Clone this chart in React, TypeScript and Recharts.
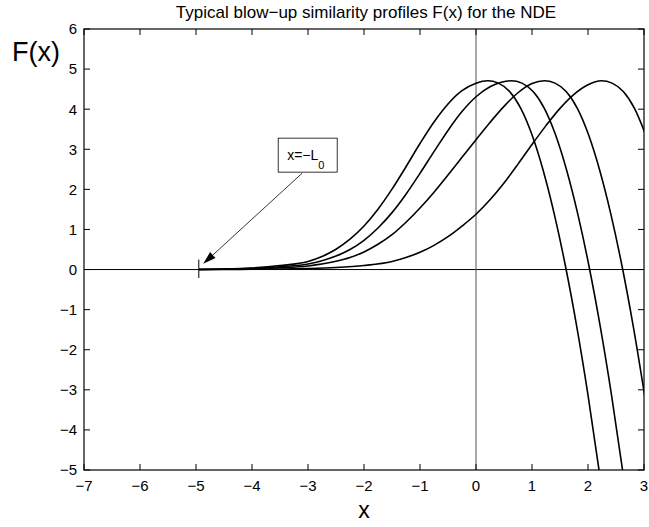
import { LineChart, Line, XAxis, YAxis, ReferenceLine, ReferenceDot } from "recharts";

const FONT = "'Liberation Sans', Arial, Helvetica, sans-serif";

// plot box in pixels (MATLAB style axes)
const LEFT = 84;
const RIGHT = 644;
const TOP = 29;
const BOTTOM = 470;
const TICK = 6;

const xTicks = [-7, -6, -5, -4, -3, -2, -1, 0, 1, 2, 3];
const yTicks = [-5, -4, -3, -2, -1, 0, 1, 2, 3, 4, 5, 6];

const L0 = -4.95;

// four similarity profiles as [x, F(x)]
const profile1: [number, number][] = [
  [-4.95, 0], [-4.5, 0.012], [-4, 0.04], [-3.5, 0.1], [-3, 0.2],
  [-2.75, 0.325], [-2.5, 0.506], [-2.25, 0.756], [-2, 1.087], [-1.75, 1.506],
  [-1.5, 2.006], [-1.25, 2.565], [-1, 3.143], [-0.75, 3.68], [-0.5, 4.13],
  [-0.25, 4.461], [0, 4.649], [0.21, 4.71], [0.4, 4.65], [0.6, 4.44],
  [0.8, 4.02], [1.0, 3.36], [1.2, 2.47], [1.4, 1.37], [1.6, 0.07],
  [1.8, -1.43], [2.0, -3.13], [2.2, -5.03],
];

const profile2: [number, number][] = [
  [-4.95, 0], [-4.5, 0.008], [-4, 0.028], [-3.5, 0.07], [-3, 0.14],
  [-2.75, 0.22], [-2.5, 0.335], [-2.25, 0.5], [-2, 0.73], [-1.75, 1.036],
  [-1.5, 1.42], [-1.25, 1.88], [-1, 2.4], [-0.75, 2.94], [-0.5, 3.47],
  [-0.25, 3.94], [0, 4.31], [0.25, 4.56], [0.45, 4.67], [0.63, 4.71],
  [0.82, 4.65], [1.02, 4.44], [1.22, 4.02], [1.42, 3.36], [1.62, 2.47],
  [1.82, 1.37], [2.02, 0.07], [2.22, -1.43], [2.42, -3.13], [2.62, -5.03],
];

const profile3: [number, number][] = [
  [-4.95, 0], [-4.5, 0.006], [-4, 0.02], [-3.5, 0.045], [-3, 0.09],
  [-2.5, 0.205], [-2.25, 0.3], [-2, 0.44], [-1.75, 0.63], [-1.5, 0.87],
  [-1.25, 1.18], [-1, 1.535], [-0.75, 1.93], [-0.5, 2.36], [-0.25, 2.8],
  [0, 3.24], [0.25, 3.67], [0.5, 4.07], [0.75, 4.41], [1.0, 4.64],
  [1.22, 4.71], [1.41, 4.65], [1.61, 4.44], [1.81, 4.02], [2.01, 3.36],
  [2.21, 2.47], [2.41, 1.37], [2.61, 0.07], [2.81, -1.43], [3.01, -3.13],
];

const profile4: [number, number][] = [
  [-4.95, 0], [-4.5, 0.002], [-4, 0.006], [-3.5, 0.012], [-3, 0.025],
  [-2.5, 0.05], [-2, 0.1], [-1.5, 0.2], [-1.25, 0.3], [-1, 0.43],
  [-0.75, 0.604], [-0.5, 0.82], [-0.25, 1.085], [0, 1.38], [0.25, 1.74],
  [0.5, 2.16], [0.75, 2.63], [1.0, 3.12], [1.25, 3.59], [1.5, 4.02],
  [1.75, 4.37], [2.0, 4.61], [2.24, 4.71], [2.43, 4.65], [2.63, 4.44],
  [2.83, 4.02], [3.03, 3.36],
];

const profiles = [profile1, profile2, profile3, profile4];

const minus = (v: number) => String(v).replace("-", "\u2212");

function XTick({ x, payload }: any) {
  return (
    <g>
      <line x1={x} x2={x} y1={BOTTOM} y2={BOTTOM - TICK} stroke="#000" />
      <line x1={x} x2={x} y1={TOP} y2={TOP + TICK} stroke="#000" />
      <text x={x} y={491} textAnchor="middle" fontSize={15} fontFamily={FONT} fill="#000">
        {minus(payload.value)}
      </text>
    </g>
  );
}

function YTick({ y, payload }: any) {
  return (
    <g>
      <line x1={LEFT} x2={LEFT + TICK} y1={y} y2={y} stroke="#000" />
      <line x1={RIGHT - TICK} x2={RIGHT} y1={y} y2={y} stroke="#000" />
      <text x={77} y={y} dy="0.36em" textAnchor="end" fontSize={15} fontFamily={FONT} fill="#000">
        {minus(payload.value)}
      </text>
    </g>
  );
}

// box + arrow pointing at x = -L0
function L0Note({ cx, cy }: any) {
  const tipX = cx + 4.4;
  const tipY = cy - 5.7;
  const sx = cx + 103.4;
  const sy = cy - 96.4;
  const len = Math.hypot(tipX - sx, tipY - sy);
  const ux = (tipX - sx) / len;
  const uy = (tipY - sy) / len;
  const bx = tipX - ux * 13;
  const by = tipY - uy * 13;
  return (
    <g>
      <line x1={cx} x2={cx} y1={cy - 10} y2={cy + 8.5} stroke="#000" />
      <line x1={sx} y1={sy} x2={bx} y2={by} stroke="#000" strokeWidth={0.8} />
      <polygon
        points={`${tipX},${tipY} ${bx - uy * 4},${by + ux * 4} ${bx + uy * 4},${by - ux * 4}`}
        fill="#000"
      />
      <rect x={cx + 79.4} y={cy - 131.4} width={59} height={34} fill="#fff" stroke="#000" strokeWidth={0.8} />
      <text x={cx + 88.4} y={cy - 109.7} fontSize={14} fontFamily={FONT} fill="#000">
        x=−L
        <tspan dy={9} fontSize={11}>0</tspan>
      </text>
    </g>
  );
}

export default function App() {
  return (
    <div style={{ position: "absolute", left: 0, top: 0, width: 649, height: 527, background: "#fff" }}>
      <LineChart
        width={649}
        height={527}
        margin={{ top: TOP, right: 649 - RIGHT, bottom: 527 - BOTTOM - 1, left: LEFT - 1 }}
      >
        <XAxis
          dataKey="x"
          type="number"
          domain={[-7, 3]}
          ticks={xTicks}
          allowDataOverflow
          height={1}
          axisLine={false}
          tickLine={false}
          tick={(props: any) => <XTick {...props} />}
          interval={0}
        />
        <YAxis
          type="number"
          domain={[-5, 6]}
          ticks={yTicks}
          allowDataOverflow
          width={1}
          axisLine={false}
          tickLine={false}
          tick={(props: any) => <YTick {...props} />}
          interval={0}
        />
        <ReferenceLine y={0} stroke="#000" strokeWidth={1} />
        <ReferenceLine x={0} stroke="#555" strokeWidth={1} />
        {profiles.map((p, i) => (
          <Line
            key={i}
            data={p.map(([x, y]) => ({ x, y }))}
            dataKey="y"
            type="monotone"
            stroke="#000"
            strokeWidth={1.6}
            dot={false}
            activeDot={false}
            isAnimationActive={false}
          />
        ))}
        <ReferenceDot x={L0} y={0} r={0} shape={(props: any) => <L0Note {...props} />} />
      </LineChart>
      <svg
        width={649}
        height={527}
        style={{ position: "absolute", left: 0, top: 0, pointerEvents: "none" }}
      >
        <rect x={LEFT} y={TOP} width={RIGHT - LEFT} height={BOTTOM - TOP} fill="none" stroke="#000" strokeWidth={1.2} />
        <text x={366} y={18} textAnchor="middle" fontSize={17} fontFamily={FONT} fill="#000">
          Typical blow−up similarity profiles F(x) for the NDE
        </text>
        <text x={12} y={61} fontSize={27} fontFamily={FONT} fill="#000">
          F(x)
        </text>
        <text x={364} y={518} textAnchor="middle" fontSize={23} fontFamily={FONT} fill="#000">
          x
        </text>
      </svg>
    </div>
  );
}
